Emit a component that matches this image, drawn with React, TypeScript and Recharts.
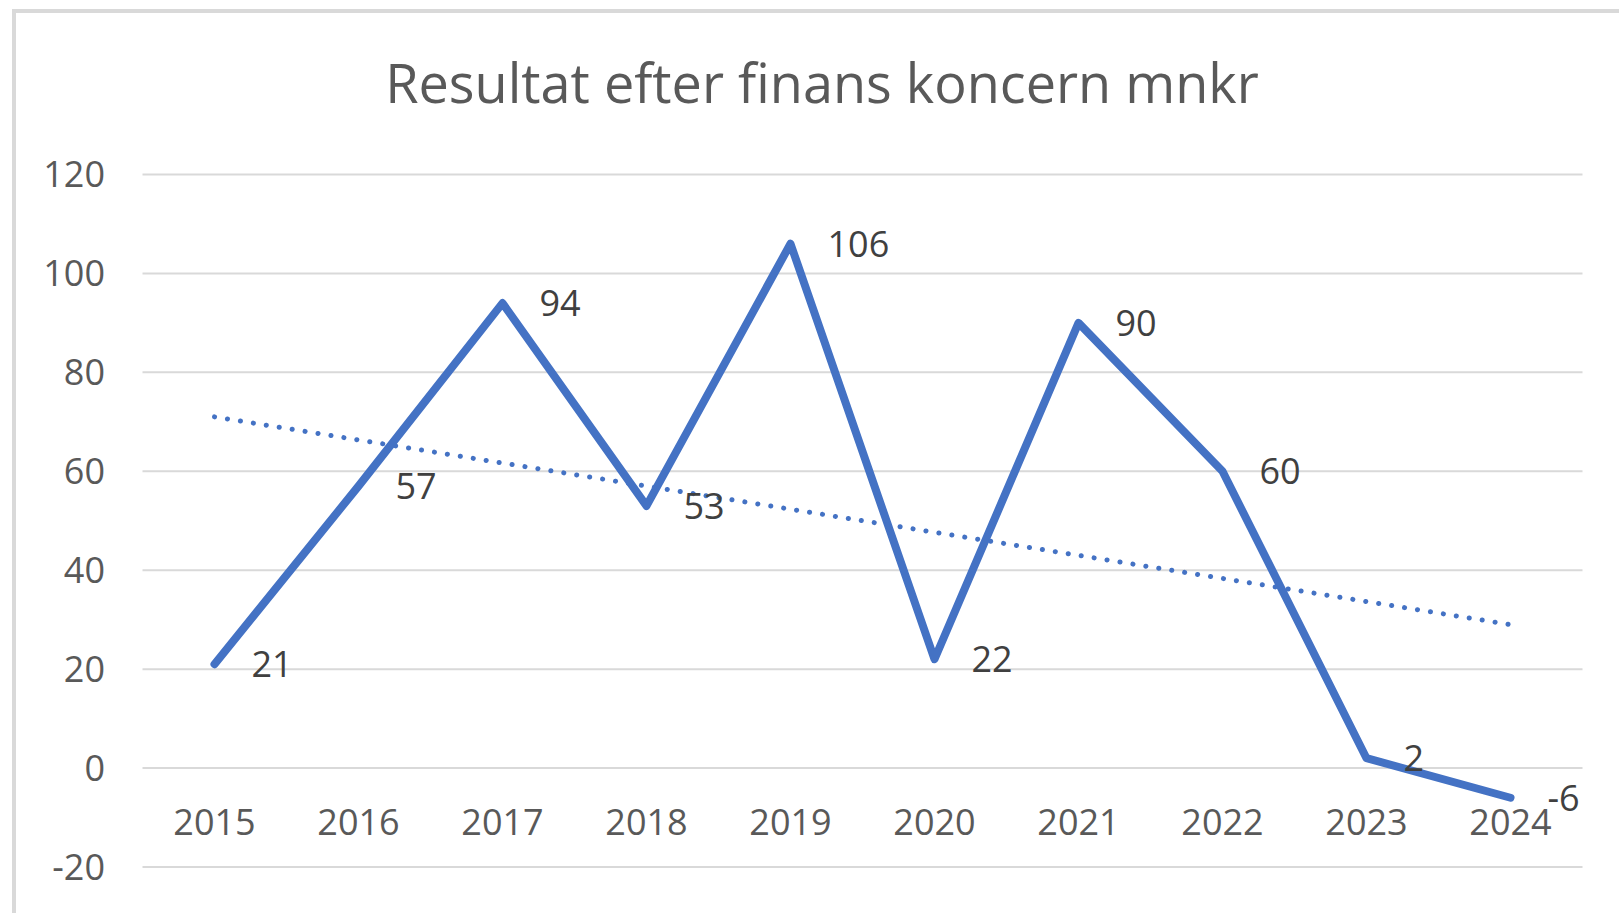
import { LineChart, Line, XAxis, YAxis, CartesianGrid, LabelList } from "recharts";

const years = ["2015", "2016", "2017", "2018", "2019", "2020", "2021", "2022", "2023", "2024"];
const result = [21, 57, 94, 53, 106, 22, 90, 60, 2, -6];
// trendline: only its two ends
const trend = [71, null, null, null, null, null, null, null, null, 29];
const yTicks = [-20, 0, 20, 40, 60, 80, 100, 120];

const data = years.map((year, i) => ({ year, result: result[i], trend: trend[i] }));

const font = "'Open Sans', 'Noto Sans', sans-serif";

const YearTick = (props: any) => {
  const { x, y, payload } = props;
  return (
    <text x={x} y={y} dy={-34} textAnchor="middle" fill="#595959" fontSize={36} fontFamily={font}>
      {payload.value}
    </text>
  );
};

export default function App() {
  return (
    <div style={{ position: "absolute", left: 0, top: 0, width: 1619, height: 913, background: "#fff", overflow: "hidden" }}>
      <div
        style={{
          position: "absolute",
          left: 12,
          top: 9,
          width: 1640,
          height: 960,
          borderLeft: "4px solid #d9d9d9",
          borderTop: "4px solid #d9d9d9",
        }}
      />
      <div
        style={{
          position: "absolute",
          left: 12,
          width: 1620,
          top: 47,
          textAlign: "center",
          fontFamily: font,
          fontSize: 54,
          color: "#595959",
          lineHeight: "70px",
          whiteSpace: "nowrap",
        }}
      >
        Resultat efter finans koncern mnkr
      </div>
      <div style={{ position: "absolute", left: 0, top: 0 }}>
        <LineChart width={1619} height={913} data={data} margin={{ top: 174.5, right: 36.5, bottom: 16, left: 0 }}>
          <CartesianGrid vertical={false} stroke="#d9d9d9" strokeWidth={2} />
          <XAxis
            dataKey="year"
            padding={{ left: 72, right: 72 }}
            axisLine={false}
            tickLine={false}
            tickSize={0}
            height={30}
            tick={<YearTick />}
            interval={0}
          />
          <YAxis
            domain={[-20, 120]}
            ticks={yTicks}
            width={142.5}
            axisLine={false}
            tickLine={false}
            tickSize={0}
            tickMargin={37.5}
            tick={{ fill: "#595959", fontSize: 36, fontFamily: font }}
          />
          <Line
            dataKey="result"
            stroke="#4472C4"
            strokeWidth={8}
            strokeLinecap="round"
            strokeLinejoin="round"
            dot={false}
            isAnimationActive={false}
          >
            <LabelList dataKey="result" position="right" offset={37} fill="#404040" fontSize={36} fontFamily={font} />
          </Line>
          <Line
            dataKey="trend"
            connectNulls
            stroke="#4472C4"
            strokeWidth={5}
            strokeLinecap="round"
            strokeDasharray="0.1 13"
            dot={false}
            isAnimationActive={false}
          />
        </LineChart>
      </div>
    </div>
  );
}
